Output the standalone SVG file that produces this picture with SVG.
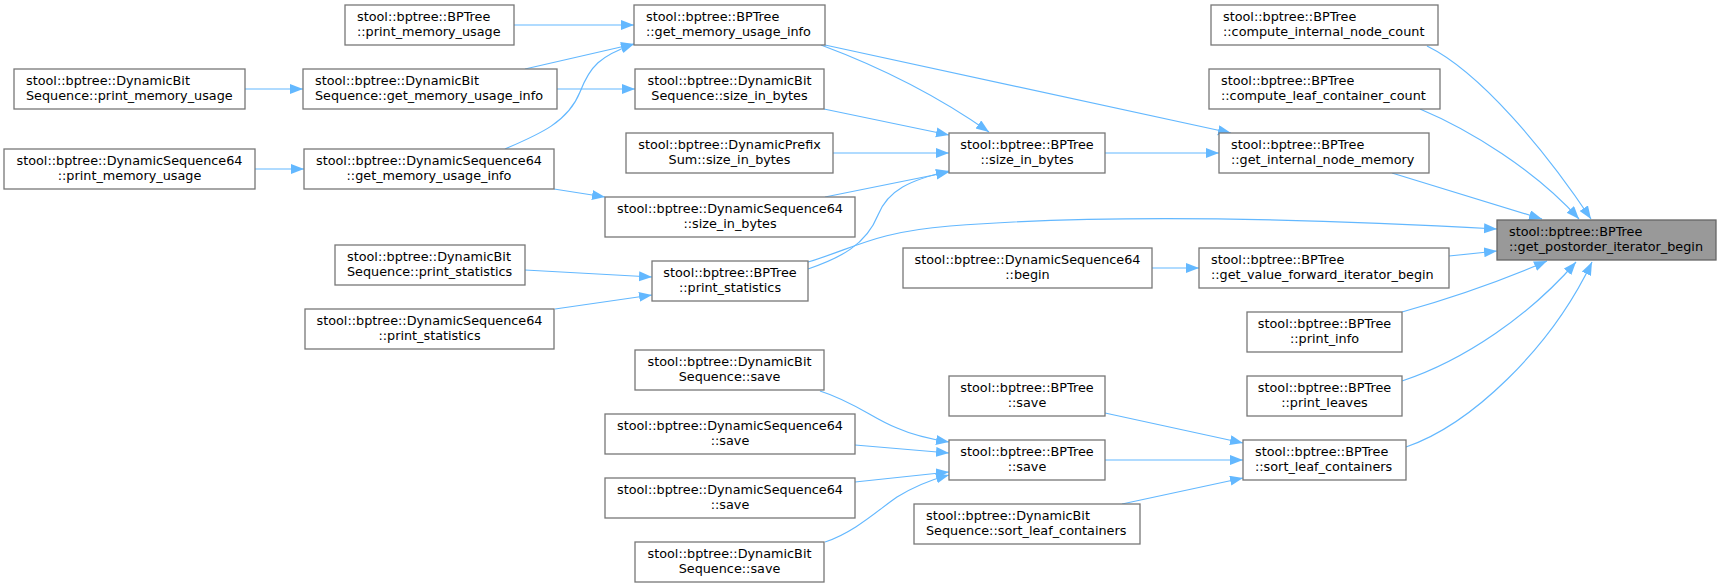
<svg xmlns="http://www.w3.org/2000/svg" width="1721" height="588" viewBox="0 0 1721 588">
<style>
rect.n{fill:#ffffff;stroke:#777777;stroke-width:1.3}
rect.r{fill:#999999;stroke:#666666;stroke-width:1.3}
text{font-family:"DejaVu Sans",sans-serif;font-size:12.8px;fill:#000000}
.c{text-anchor:middle}
.e{fill:none;stroke:#63B8FF;stroke-width:1.2;marker-end:url(#a)}
</style>
<defs>
<marker id="a" markerWidth="14" markerHeight="11" refX="13" refY="5" orient="auto" markerUnits="userSpaceOnUse">
<path d="M0,0 L13,5 L0,10 z" fill="#63B8FF"/>
</marker>
</defs>
<rect width="1721" height="588" fill="#ffffff"/>
<g id="connectors">
<path class="e" d="M514,25 L634,25"/>
<path class="e" d="M525,69 L634,44"/>
<path class="e" d="M505,149 C540,134 568,122 580,92 C590,66 600,56 634,44"/>
<path class="e" d="M245,89 L303,89"/>
<path class="e" d="M255,169 L304,169"/>
<path class="e" d="M557,89 L635,89"/>
<path class="e" d="M554,189 L605,197"/>
<path class="e" d="M821,45 Q915,80 989,132"/>
<path class="e" d="M825,45 L1231,133"/>
<path class="e" d="M824,109 L949,135"/>
<path class="e" d="M833,153 L949,153"/>
<path class="e" d="M825,197 L949,172"/>
<path class="e" d="M808,269 C840,258 866,245 878,215 C888,190 910,180 949,171"/>
<path class="e" d="M808,262 C855,248 875,232 950,226 C1100,214 1300,218 1497,229"/>
<path class="e" d="M525,270 L652,277"/>
<path class="e" d="M555,309 L652,295"/>
<path class="e" d="M1152,268 L1199,268"/>
<path class="e" d="M1449,256 L1497,251"/>
<path class="e" d="M1105,153 L1219,153"/>
<path class="e" d="M1392,173 L1542,219"/>
<path class="e" d="M1427,46 C1480,72 1545,150 1591,219"/>
<path class="e" d="M1420,109 C1470,130 1535,170 1579,219"/>
<path class="e" d="M1402,312 Q1480,290 1547,261"/>
<path class="e" d="M1402,381 C1465,360 1530,315 1576,262"/>
<path class="e" d="M1406,447 C1470,425 1550,350 1592,262"/>
<path class="e" d="M1105,413 L1243,443"/>
<path class="e" d="M1105,460 L1243,460"/>
<path class="e" d="M1122,504 L1243,478"/>
<path class="e" d="M820,391 C855,402 875,420 897,428 C915,436 930,439 949,442"/>
<path class="e" d="M855,445 L949,453"/>
<path class="e" d="M855,482 L949,472"/>
<path class="e" d="M825,542 C855,532 878,510 897,497 C915,486 930,480 949,475"/>
</g>
<g id="n1"><rect class="n" x="345" y="5" width="169" height="40"/><text x="357" y="21.3">stool::bptree::BPTree</text><text x="357" y="35.8">::print_memory_usage</text></g>
<g id="n2"><rect class="n" x="634" y="5" width="191" height="40"/><text x="646" y="21.3">stool::bptree::BPTree</text><text x="646" y="35.8">::get_memory_usage_info</text></g>
<g id="n3"><rect class="n" x="1211" y="5" width="227" height="40"/><text x="1223" y="21.3">stool::bptree::BPTree</text><text x="1223" y="35.8">::compute_internal_node_count</text></g>
<g id="n4"><rect class="n" x="14" y="69" width="231" height="40"/><text x="26" y="85.3">stool::bptree::DynamicBit</text><text x="26" y="99.8">Sequence::print_memory_usage</text></g>
<g id="n5"><rect class="n" x="303" y="69" width="254" height="40"/><text x="315" y="85.3">stool::bptree::DynamicBit</text><text x="315" y="99.8">Sequence::get_memory_usage_info</text></g>
<g id="n6"><rect class="n" x="635" y="69" width="189" height="40"/><text class="c" x="729.5" y="85.3">stool::bptree::DynamicBit</text><text class="c" x="729.5" y="99.8">Sequence::size_in_bytes</text></g>
<g id="n7"><rect class="n" x="1209" y="69" width="231" height="40"/><text x="1221" y="85.3">stool::bptree::BPTree</text><text x="1221" y="99.8">::compute_leaf_container_count</text></g>
<g id="n8"><rect class="n" x="4" y="149" width="251" height="40"/><text class="c" x="129.5" y="165.3">stool::bptree::DynamicSequence64</text><text class="c" x="129.5" y="179.8">::print_memory_usage</text></g>
<g id="n9"><rect class="n" x="304" y="149" width="250" height="40"/><text class="c" x="429" y="165.3">stool::bptree::DynamicSequence64</text><text class="c" x="429" y="179.8">::get_memory_usage_info</text></g>
<g id="n10"><rect class="n" x="626" y="133" width="207" height="40"/><text class="c" x="729.5" y="149.3">stool::bptree::DynamicPrefix</text><text class="c" x="729.5" y="163.8">Sum::size_in_bytes</text></g>
<g id="n11"><rect class="n" x="949" y="133" width="156" height="40"/><text class="c" x="1027" y="149.3">stool::bptree::BPTree</text><text class="c" x="1027" y="163.8">::size_in_bytes</text></g>
<g id="n12"><rect class="n" x="1219" y="133" width="210" height="40"/><text x="1231" y="149.3">stool::bptree::BPTree</text><text x="1231" y="163.8">::get_internal_node_memory</text></g>
<g id="n13"><rect class="n" x="605" y="197" width="250" height="40"/><text class="c" x="730" y="213.3">stool::bptree::DynamicSequence64</text><text class="c" x="730" y="227.8">::size_in_bytes</text></g>
<g id="n14"><rect class="r" x="1497" y="220" width="219" height="40"/><text x="1509" y="236.3">stool::bptree::BPTree</text><text x="1509" y="250.8">::get_postorder_iterator_begin</text></g>
<g id="n15"><rect class="n" x="335" y="245" width="190" height="40"/><text x="347" y="261.3">stool::bptree::DynamicBit</text><text x="347" y="275.8">Sequence::print_statistics</text></g>
<g id="n16"><rect class="n" x="652" y="261" width="156" height="40"/><text class="c" x="730" y="277.3">stool::bptree::BPTree</text><text class="c" x="730" y="291.8">::print_statistics</text></g>
<g id="n17"><rect class="n" x="903" y="248" width="249" height="40"/><text class="c" x="1027.5" y="264.3">stool::bptree::DynamicSequence64</text><text class="c" x="1027.5" y="278.8">::begin</text></g>
<g id="n18"><rect class="n" x="1199" y="248" width="250" height="40"/><text x="1211" y="264.3">stool::bptree::BPTree</text><text x="1211" y="278.8">::get_value_forward_iterator_begin</text></g>
<g id="n19"><rect class="n" x="305" y="309" width="249" height="40"/><text class="c" x="429.5" y="325.3">stool::bptree::DynamicSequence64</text><text class="c" x="429.5" y="339.8">::print_statistics</text></g>
<g id="n20"><rect class="n" x="1247" y="312" width="155" height="40"/><text class="c" x="1324.5" y="328.3">stool::bptree::BPTree</text><text class="c" x="1324.5" y="342.8">::print_info</text></g>
<g id="n21"><rect class="n" x="635" y="350" width="189" height="40"/><text class="c" x="729.5" y="366.3">stool::bptree::DynamicBit</text><text class="c" x="729.5" y="380.8">Sequence::save</text></g>
<g id="n22"><rect class="n" x="949" y="376" width="156" height="40"/><text class="c" x="1027" y="392.3">stool::bptree::BPTree</text><text class="c" x="1027" y="406.8">::save</text></g>
<g id="n23"><rect class="n" x="1247" y="376" width="155" height="40"/><text class="c" x="1324.5" y="392.3">stool::bptree::BPTree</text><text class="c" x="1324.5" y="406.8">::print_leaves</text></g>
<g id="n24"><rect class="n" x="605" y="414" width="250" height="40"/><text class="c" x="730" y="430.3">stool::bptree::DynamicSequence64</text><text class="c" x="730" y="444.8">::save</text></g>
<g id="n25"><rect class="n" x="949" y="440" width="156" height="40"/><text class="c" x="1027" y="456.3">stool::bptree::BPTree</text><text class="c" x="1027" y="470.8">::save</text></g>
<g id="n26"><rect class="n" x="1243" y="440" width="163" height="40"/><text x="1255" y="456.3">stool::bptree::BPTree</text><text x="1255" y="470.8">::sort_leaf_containers</text></g>
<g id="n27"><rect class="n" x="605" y="478" width="250" height="40"/><text class="c" x="730" y="494.3">stool::bptree::DynamicSequence64</text><text class="c" x="730" y="508.8">::save</text></g>
<g id="n28"><rect class="n" x="914" y="504" width="226" height="40"/><text x="926" y="520.3">stool::bptree::DynamicBit</text><text x="926" y="534.8">Sequence::sort_leaf_containers</text></g>
<g id="n29"><rect class="n" x="635" y="542" width="189" height="40"/><text class="c" x="729.5" y="558.3">stool::bptree::DynamicBit</text><text class="c" x="729.5" y="572.8">Sequence::save</text></g>
</svg>
